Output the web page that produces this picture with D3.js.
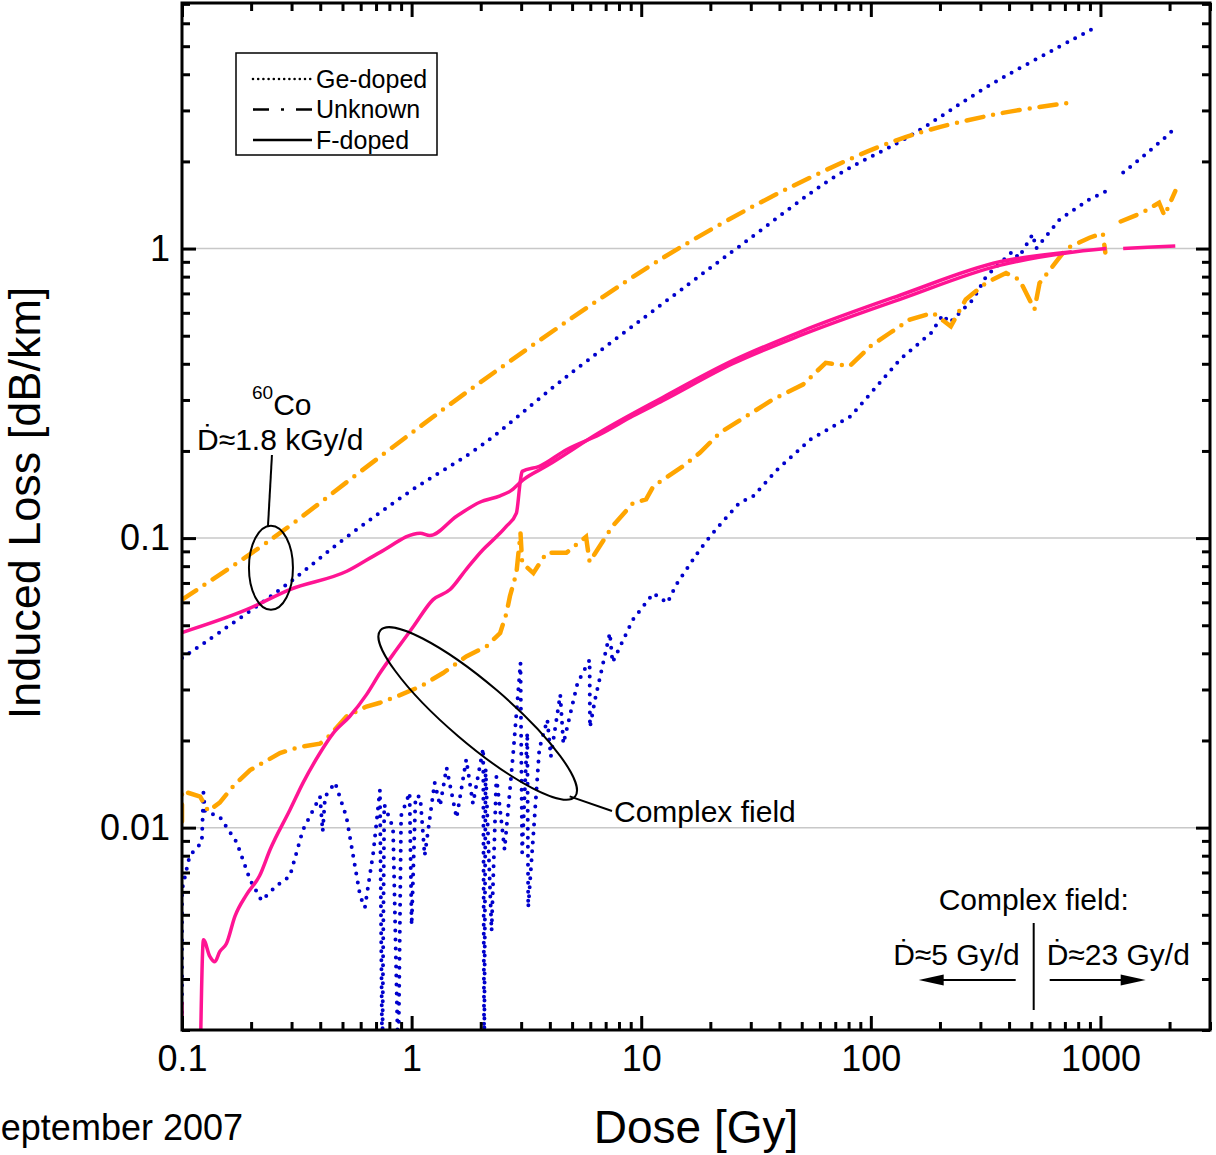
<!DOCTYPE html>
<meta charset="utf-8">
<script src="https://d3js.org/d3.v7.min.js"></script>
<style>
  body { margin: 0; background: #fff; }
  text { font-family: Arial, "Liberation Sans", sans-serif; fill: #000; }
</style>
<div id="chart"></div>
<script>

// ---- data (dose in Gy, induced loss in dB/km), null = gap in the record ----

// 60Co irradiation (1.8 kGy/d)
var geCo = [[0.1,0.0385],[0.267,0.0664],[0.523,0.101],[1.01,0.147],[1.98,0.207],[4.56,0.353],
  [13.4,0.676],[27.3,1.03],[70.3,1.78],[143,2.41],[342,3.73],[973,5.86]];

var unkCo = [[0.1,0.0613],[0.249,0.1],[0.728,0.191],[1.98,0.344],[6.87,0.684],[14.5,1.0],
  [44,1.62],[132,2.38],[342,2.9],[738,3.19]];

var fCo = [[0.1,0.0472],[0.191,0.0566],[0.295,0.0664],[0.522,0.0768],[0.728,0.0893],[1.09,0.104],
  [1.2,0.102],[1.57,0.119],[1.98,0.133],[2.43,0.14],[2.68,0.145],[3.06,0.159],[3.9,0.178],
  [6.6,0.232],[12.4,0.306],[25,0.41],[49,0.515],[134,0.69],[364,0.9],[750,0.975]];

// complex field (5 Gy/d, then 23 Gy/d)
var geCx = [[0.1,0.0015],[0.1,0.0061],[0.108,0.008],[0.122,0.0089],[0.124,0.0132],[0.126,0.0114],
  [0.146,0.0109],[0.173,0.0089],[0.198,0.0066],[0.222,0.0056],[0.258,0.0063],[0.295,0.0068],
  [0.336,0.0098],[0.399,0.0128],[0.41,0.0097],[0.42,0.0128],[0.464,0.0143],[0.52,0.0109],
  [0.597,0.0058],[0.626,0.0053],[0.681,0.0082],[0.728,0.0135],[0.745,0.0015],[0.76,0.012],
  [0.83,0.01],[0.875,0.0015],[0.9,0.011],[0.98,0.0132],[1.0,0.0046],[1.04,0.0128],[1.09,0.0128],
  [1.14,0.008],[1.26,0.0143],[1.33,0.0119],[1.42,0.0161],[1.57,0.0108],[1.73,0.0172],[1.85,0.0121],
  [2.05,0.0188],[2.07,0.0015],[2.1,0.016],[2.23,0.0044],[2.34,0.015],[2.54,0.0084],[2.77,0.0181],
  [2.98,0.037],[3.03,0.0082],[3.19,0.0213],[3.22,0.0053],[3.6,0.0187],[3.9,0.0236],[4.04,0.0176],
  [4.44,0.0288],[4.58,0.0195],[5.28,0.0316],[5.96,0.038],[5.98,0.0222],[6.3,0.0278],[7.3,0.047],
  [7.5,0.0372],[9.2,0.0523],[11.3,0.0645],[13,0.0597],[14.2,0.069],[18,0.0913],[19.9,0.101],
  [22.4,0.113],[26.7,0.132],[30.9,0.14],[39,0.172],[47.1,0.197],[54.4,0.219],[81.5,0.263],
  [106,0.334],[134,0.414],[183,0.511],[206,0.591],[220,0.554],[279,0.667],[318,0.802],
  [415,0.979],[440,0.93],[507,1.12],[525,1.0],[664,1.26],[896,1.48],[1094,1.6],
  null,
  [1256,1.83],[1531,2.08],[1870,2.38],[2118,2.61]];

var unkCx = [[0.1,0.0105],[0.1,0.0134],[0.12,0.0128],[0.13,0.0114],[0.146,0.0122],[0.167,0.0139],
  [0.198,0.0158],[0.267,0.0181],[0.326,0.019],[0.399,0.0195],[0.427,0.0203],[0.52,0.0242],
  [0.636,0.0262],[0.728,0.027],[0.89,0.0287],[1.09,0.0307],[1.37,0.0342],[1.73,0.039],
  [2.12,0.0423],[2.43,0.047],[2.59,0.0551],[2.68,0.063],[2.86,0.0757],[2.98,0.104],[3.03,0.082],
  [3.39,0.0757],[3.87,0.089],[4.72,0.089],[5.75,0.101],[5.96,0.0827],[7.5,0.11],[9.2,0.132],
  [10.5,0.136],[11.3,0.151],[15.2,0.177],[18,0.197],[22,0.231],[28.8,0.264],[37.4,0.301],
  [50.6,0.339],[63.6,0.403],[81,0.393],[99.6,0.46],[121,0.511],[148,0.569],[186,0.6],
  [223,0.539],[259,0.667],[318,0.761],[388,0.824],[444,0.78],[516,0.616],[543,0.76],
  [620,0.869],[710,1.0],[896,1.09],[1024,1.13],[1050,0.97],
  null,
  [1225,1.24],[1522,1.33],[1800,1.44],[1900,1.3],[2118,1.58]];

var fCx = [[0.1,0.0015],[0.1,0.0025],null,[0.12,0.0015],[0.124,0.0041],[0.132,0.0036],
  [0.139,0.00344],[0.146,0.00373],[0.156,0.00397],[0.17,0.00494],[0.191,0.00587],[0.218,0.00683],
  [0.242,0.0084],[0.295,0.0115],[0.337,0.0143],[0.399,0.0181],[0.456,0.0212],[0.537,0.0242],
  [0.636,0.0288],[0.728,0.0342],[0.86,0.0412],[1.02,0.0496],[1.24,0.0613],[1.47,0.0664],
  [1.73,0.078],[2.05,0.0913],[2.34,0.101],[2.59,0.11],[2.86,0.122],[2.98,0.159],[3.03,0.17],
  [3.6,0.177],[4.72,0.202],[6.6,0.228],[9.2,0.264],[12.4,0.298],[25,0.4],[49,0.5],[134,0.668],
  [364,0.875],[710,0.966],[1062,1.0],
  null,
  [1256,1.0],[1600,1.01],[2118,1.02]];

var xMajor = [0.1, 1, 10, 100, 1000];
var xLabels = ["0.1", "1", "10", "100", "1000"];
var yMajor = [0.01, 0.1, 1];
var yLabels = ["0.01", "0.1", "1"];
var legendNames = ["Ge-doped", "Unknown", "F-doped"];

// ---- layout ----
var W = 1216, H = 1155;
var margin = {top: 3, right: 6, bottom: 125, left: 182};
var width = W - margin.left - margin.right,
    height = H - margin.top - margin.bottom;

var svg = d3.select("#chart").append("svg")
    .attr("width", W).attr("height", H);
var g = svg.append("g")
    .attr("transform", "translate(" + margin.left + "," + margin.top + ")");

var x = d3.scaleLog().domain([0.1, 3000]).range([0, width]);
var y = d3.scaleLog().domain([0.002, 7.05]).range([height, 0]);

// minor tick values
var xMinor = [], yMinor = [];
[-1, 0, 1, 2, 3].forEach(function(e) {
  for (var m = 2; m <= 9; m++) { var v = m * Math.pow(10, e); if (v <= 3000) xMinor.push(v); }
});
[-3, -2, -1, 0].forEach(function(e) {
  for (var m = 2; m <= 9; m++) {
    var v = +(m * Math.pow(10, e)).toPrecision(3);
    if (v >= 0.002 && v <= 7.05) yMinor.push(v);
  }
});

// grid lines
g.append("g").selectAll("line").data(yMajor).enter().append("line")
    .attr("x1", 0).attr("x2", width)
    .attr("y1", function(d) { return y(d); }).attr("y2", function(d) { return y(d); })
    .attr("stroke", "#c8c8c8").attr("stroke-width", 1.5);

// clip
g.append("defs").append("clipPath").attr("id", "clip")
  .append("rect").attr("width", width).attr("height", height);

var line = d3.line()
    .defined(function(d) { return d != null; })
    .x(function(d) { return x(d[0]); })
    .y(function(d) { return y(d[1]); });
var soft = d3.line()
    .defined(function(d) { return d != null; })
    .curve(d3.curveMonotoneX)
    .x(function(d) { return x(d[0]); })
    .y(function(d) { return y(d[1]); });
var smooth = d3.line()
    .curve(d3.curveCatmullRom)
    .x(function(d) { return x(d[0]); })
    .y(function(d) { return y(d[1]); });

var BLUE = "#0000cc", ORANGE = "#ffa500", PINK = "#ff1493";
var plot = g.append("g").attr("clip-path", "url(#clip)");

function dotted(sel) {
  sel.attr("fill", "none").attr("stroke", BLUE).attr("stroke-width", 4)
     .attr("stroke-linecap", "round").attr("stroke-dasharray", "0,9");
}
function dashdot(sel) {
  sel.attr("fill", "none").attr("stroke", ORANGE).attr("stroke-width", 4.5)
     .attr("stroke-linecap", "round").attr("stroke-dasharray", "17,10,0,10");
}
function solid(sel) {
  sel.attr("fill", "none").attr("stroke", PINK).attr("stroke-width", 3.5)
     .attr("stroke-linejoin", "round");
}

plot.append("path").attr("d", line(geCx)).call(dotted);
plot.append("path").attr("d", smooth(geCo)).call(dotted);
plot.append("path").attr("d", line(unkCx)).call(dashdot);
plot.append("path").attr("d", smooth(unkCo)).call(dashdot);
plot.append("path").attr("d", soft(fCo)).call(solid);
plot.append("path").attr("d", soft(fCx)).call(solid);

// ---- axes ----
function style(ax) {
  ax.select(".domain").remove();
  ax.selectAll("line").attr("stroke", "#000").attr("stroke-width", 3);
  ax.selectAll("text").style("font-size", "36px").attr("fill", "#000");
}
var fmtX = function(d) { return xLabels[xMajor.indexOf(d)]; };
var fmtY = function(d) { return yLabels[yMajor.indexOf(d)]; };

g.append("g").attr("transform", "translate(0," + height + ")")
  .call(d3.axisBottom(x).tickValues(xMajor).tickFormat(fmtX).tickSize(-14).tickPadding(15)).call(style);
g.append("g").attr("transform", "translate(0," + height + ")")
  .call(d3.axisBottom(x).tickValues(xMinor).tickFormat("").tickSize(-8)).call(style);
g.append("g")
  .call(d3.axisTop(x).tickValues(xMajor).tickFormat("").tickSize(-14)).call(style);
g.append("g")
  .call(d3.axisTop(x).tickValues(xMinor).tickFormat("").tickSize(-8)).call(style);
g.append("g")
  .call(d3.axisLeft(y).tickValues(yMajor).tickFormat(fmtY).tickSize(-14).tickPadding(12)).call(style);
g.append("g")
  .call(d3.axisLeft(y).tickValues(yMinor).tickFormat("").tickSize(-8)).call(style);
g.append("g").attr("transform", "translate(" + width + ",0)")
  .call(d3.axisRight(y).tickValues(yMajor).tickFormat("").tickSize(-14)).call(style);
g.append("g").attr("transform", "translate(" + width + ",0)")
  .call(d3.axisRight(y).tickValues(yMinor).tickFormat("").tickSize(-8)).call(style);

g.append("rect").attr("width", width).attr("height", height)
  .attr("fill", "none").attr("stroke", "#000").attr("stroke-width", 3);

// axis titles
svg.append("text").attr("x", 696).attr("y", 1143)
  .attr("text-anchor", "middle").style("font-size", "46px").text("Dose [Gy]");
svg.append("text").attr("transform", "translate(40,503) rotate(-90)")
  .attr("text-anchor", "middle").style("font-size", "45px").text("Induced Loss [dB/km]");
svg.append("text").attr("x", 243).attr("y", 1140)
  .attr("text-anchor", "end").style("font-size", "36px").text("September 2007");

// ---- legend ----
var leg = g.append("g").attr("transform", "translate(54,50)");
leg.append("rect").attr("width", 201).attr("height", 102)
  .attr("fill", "#fff").attr("stroke", "#000").attr("stroke-width", 1.5);
var legDash = ["0,5.2", "16,12,3,12", null];
var legCap = ["round", "butt", "butt"];
legendNames.forEach(function(n, i) {
  var yy = 26 + i * 30.5;
  leg.append("line").attr("x1", 17).attr("x2", 76).attr("y1", yy).attr("y2", yy)
    .attr("stroke", "#000").attr("stroke-width", 2.6)
    .attr("stroke-linecap", legCap[i])
    .attr("stroke-dasharray", legDash[i]);
  leg.append("text").attr("x", 80).attr("y", yy).attr("dy", "0.35em")
    .style("font-size", "25px").text(n);
});

// ---- annotations ----
var ann = g.append("g");
// 60Co group
var c1x = x(0.244), c1y = y(0.079);
ann.append("ellipse").attr("cx", c1x).attr("cy", c1y).attr("rx", 22).attr("ry", 42)
  .attr("fill", "none").attr("stroke", "#000").attr("stroke-width", 2);
ann.append("line").attr("x1", c1x - 3).attr("y1", c1y - 41).attr("x2", c1x + 1).attr("y2", 452)
  .attr("stroke", "#000").attr("stroke-width", 2);
var co = ann.append("text").attr("x", 70).attr("y", 406).style("font-size", "30px");
co.append("tspan").attr("dy", "-0.55em").style("font-size", "19px").text("60");
co.append("tspan").attr("dy", "0.55em").text("Co");
ann.append("text").attr("x", 15).attr("y", 447).style("font-size", "30px").text("\u1E0A\u22481.8 kGy/d");

// complex field group
var c2x = x(1.94), c2y = y(0.0248);
ann.append("ellipse").attr("rx", 128).attr("ry", 30)
  .attr("transform", "translate(" + c2x + "," + c2y + ") rotate(40.5)")
  .attr("fill", "none").attr("stroke", "#000").attr("stroke-width", 2);
ann.append("line").attr("x1", c2x + 92).attr("y1", c2y + 83).attr("x2", 430).attr("y2", 808)
  .attr("stroke", "#000").attr("stroke-width", 2);
ann.append("text").attr("x", 432).attr("y", 808).attr("dy", "0.35em")
  .style("font-size", "30px").text("Complex field");

// dose-rate note, lower right
var sx = x(512);
ann.append("text").attr("x", sx).attr("y", 907).attr("text-anchor", "middle")
  .style("font-size", "30px").text("Complex field:");
ann.append("text").attr("x", sx - 14).attr("y", 962).attr("text-anchor", "end")
  .style("font-size", "30px").text("\u1E0A\u22485 Gy/d");
ann.append("text").attr("x", sx + 13).attr("y", 962)
  .style("font-size", "30px").text("\u1E0A\u224823 Gy/d");
ann.append("line").attr("x1", sx).attr("x2", sx).attr("y1", 920).attr("y2", 1007)
  .attr("stroke", "#000").attr("stroke-width", 2);
ann.append("line").attr("x1", sx - 18).attr("x2", sx - 95).attr("y1", 977).attr("y2", 977)
  .attr("stroke", "#000").attr("stroke-width", 2);
ann.append("path").attr("d", d3.line()([[sx - 115, 977], [sx - 90, 971.5], [sx - 90, 982.5]]) + "Z")
  .attr("fill", "#000");
ann.append("line").attr("x1", sx + 16).attr("x2", sx + 92).attr("y1", 977).attr("y2", 977)
  .attr("stroke", "#000").attr("stroke-width", 2);
ann.append("path").attr("d", d3.line()([[sx + 112, 977], [sx + 87, 971.5], [sx + 87, 982.5]]) + "Z")
  .attr("fill", "#000");

</script>
